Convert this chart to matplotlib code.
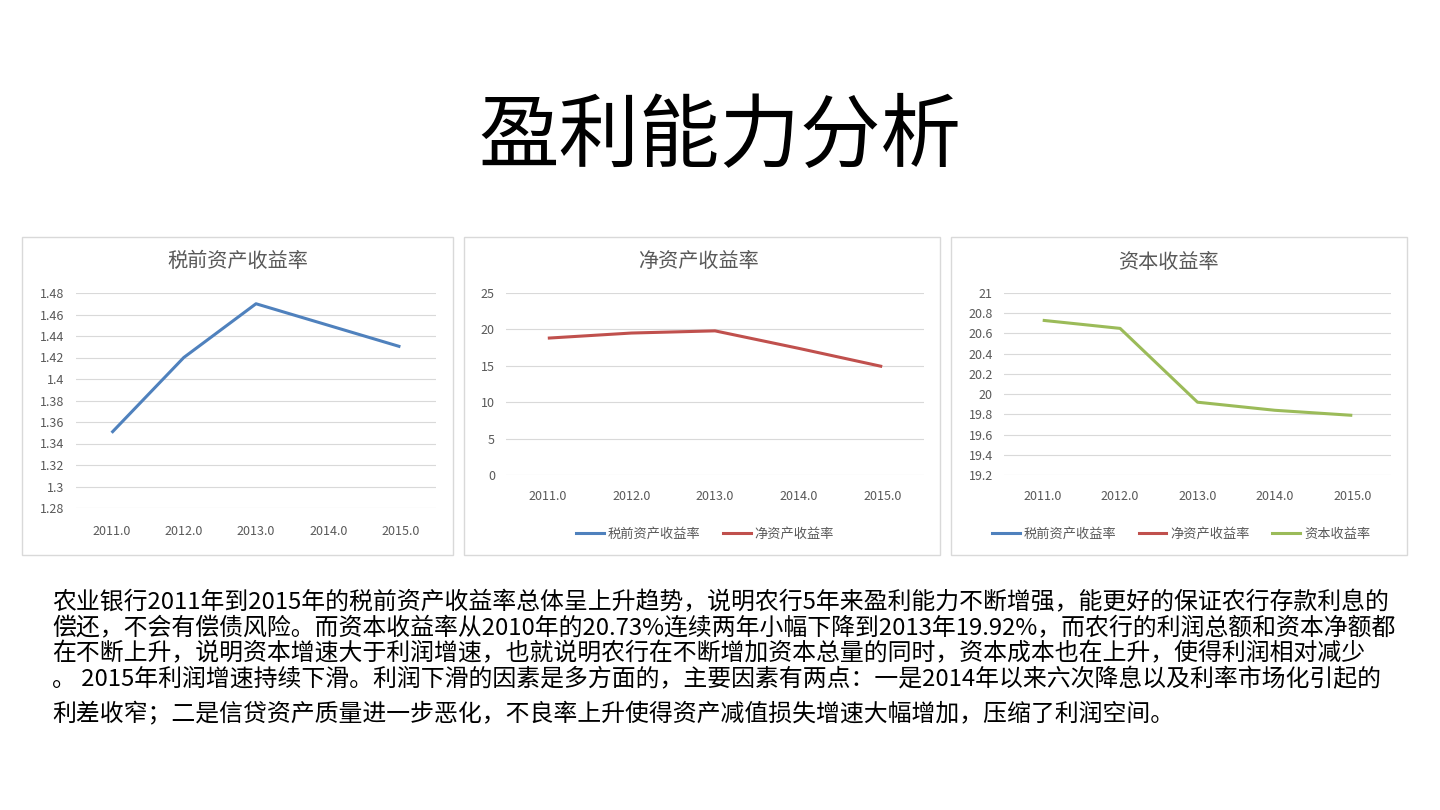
import matplotlib
matplotlib.use("Agg")
import matplotlib.pyplot as plt
from matplotlib.patches import Rectangle
from matplotlib.lines import Line2D

plt.rcParams["font.family"] = ["Noto Sans CJK SC", "DejaVu Sans"]

# =======================
# Data
# =======================
years = [2011.0, 2012.0, 2013.0, 2014.0, 2015.0]
year_labels = [f"{y:.1f}" for y in years]

roa_pretax = [1.35, 1.42, 1.47, 1.45, 1.43]      # 税前资产收益率
roe = [18.8, 19.5, 19.8, 17.4, 14.9]             # 净资产收益率
roc = [20.73, 20.65, 19.92, 19.84, 19.79]        # 资本收益率

names = ["税前资产收益率", "净资产收益率", "资本收益率"]
colors = ["#4F81BD", "#C0504D", "#9BBB59"]

yticks1 = [1.28, 1.3, 1.32, 1.34, 1.36, 1.38, 1.4, 1.42, 1.44, 1.46, 1.48]
yticks2 = [0, 5, 10, 15, 20, 25]
yticks3 = [19.2, 19.4, 19.6, 19.8, 20, 20.2, 20.4, 20.6, 20.8, 21]

paragraph = [
    "农业银行2011年到2015年的税前资产收益率总体呈上升趋势，说明农行5年来盈利能力不断增强，能更好的保证农行存款利息的",
    "偿还，不会有偿债风险。而资本收益率从2010年的20.73%连续两年小幅下降到2013年19.92%，而农行的利润总额和资本净额都",
    "在不断上升，说明资本增速大于利润增速，也就说明农行在不断增加资本总量的同时，资本成本也在上升，使得利润相对减少",
    "。 2015年利润增速持续下滑。利润下滑的因素是多方面的，主要因素有两点：一是2014年以来六次降息以及利率市场化引起的",
    "利差收窄；二是信贷资产质量进一步恶化，不良率上升使得资产减值损失增速大幅增加，压缩了利润空间。",
]
para_y = [603, 629, 654, 680, 714]

W, H = 1440, 810
fig = plt.figure(figsize=(14.4, 8.1), dpi=100)
fig.patch.set_facecolor("white")


def fx(x):
    return x / W


def fy(y):
    return 1 - y / H


# 大标题
fig.text(fx(720), fy(138), "盈利能力分析", fontsize=58, ha="center", va="center", color="black")

# 面板边框
for x0, x1 in [(22, 453), (464, 940), (951, 1407)]:
    fig.patches.append(Rectangle((fx(x0), fy(555)), fx(x1 - x0), (555 - 237) / H,
                                 transform=fig.transFigure, fill=False,
                                 edgecolor="#D9D9D9", linewidth=1.0))

grey = "#595959"


def style(ax, yticks, ylim, xpad):
    ax.set_xlim(-0.5, 4.5)
    ax.set_ylim(*ylim)
    ax.set_yticks(yticks)
    ax.set_yticklabels([f"{t:g}" for t in yticks])
    ax.set_xticks(range(len(years)))
    ax.set_xticklabels(year_labels)
    for s in ax.spines.values():
        s.set_visible(False)
    ax.tick_params(axis="both", length=0, labelsize=9, labelcolor=grey)
    ax.tick_params(axis="y", pad=8)
    ax.tick_params(axis="x", pad=xpad)
    ax.grid(axis="y", color="#D9D9D9", linewidth=0.8)
    ax.set_axisbelow(True)
    ax.patch.set_alpha(0)


# 图1
ax1 = fig.add_axes([fx(75.5), fy(508), fx(361), (508 - 293) / H])
ax1.plot(range(5), roa_pretax, color=colors[0], linewidth=2.2, solid_capstyle="butt")
style(ax1, yticks1, (1.28, 1.48), 12)
fig.text(fx(237.5), fy(261), names[0], fontsize=14.5, ha="center", va="center", color=grey)

# 图2
ax2 = fig.add_axes([fx(506), fy(475), fx(418), (475 - 293) / H])
ax2.plot(range(5), roe, color=colors[1], linewidth=2.2, solid_capstyle="butt")
style(ax2, yticks2, (0, 25), 10.5)
fig.text(fx(698), fy(261), names[1], fontsize=14.5, ha="center", va="center", color=grey)

# 图3
ax3 = fig.add_axes([fx(1004), fy(475), fx(387), (475 - 293) / H])
ax3.plot(range(5), roc, color=colors[2], linewidth=2.2, solid_capstyle="butt")
style(ax3, yticks3, (19.2, 21), 10.5)
fig.text(fx(1168), fy(263), names[2], fontsize=14.5, ha="center", va="center", color=grey)

# 图例
for ax, n, cx in [(ax2, 2, 705), (ax3, 3, 1181)]:
    handles = [Line2D([], [], color=c, linewidth=2.2) for c in colors[:n]]
    leg = ax.legend(handles, names[:n], loc="center", bbox_to_anchor=(fx(cx), fy(534)),
                    bbox_transform=fig.transFigure, ncol=n, frameon=False,
                    fontsize=9.5, handlelength=2.1, handletextpad=0.3, columnspacing=1.7)
    for t in leg.get_texts():
        t.set_color(grey)

# 正文
for line, y in zip(paragraph, para_y):
    fig.text(fx(52), fy(y), line, fontsize=17.2, ha="left", va="center", color="black")

fig.savefig("out.png", dpi=100)
